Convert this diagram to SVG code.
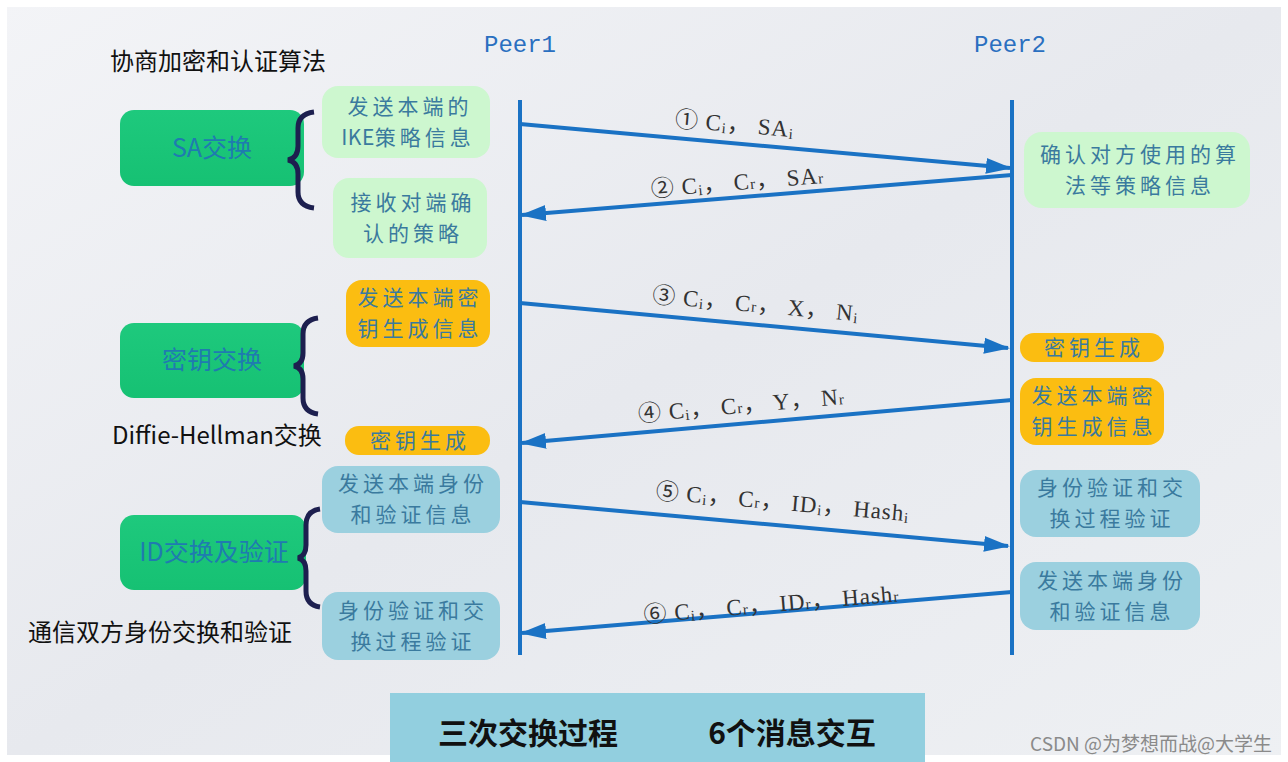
<svg xmlns="http://www.w3.org/2000/svg" width="1288" height="762" viewBox="0 0 1288 762">
<defs>
<linearGradient id="bg" x1="0" y1="0" x2="1" y2="1">
<stop offset="0" stop-color="#f3f4f7"/><stop offset="0.5" stop-color="#e7e9ee"/><stop offset="1" stop-color="#eef0f3"/>
</linearGradient>
<linearGradient id="gbox" x1="0" y1="0" x2="0" y2="1">
<stop offset="0" stop-color="#1ec97d"/><stop offset="1" stop-color="#16c173"/>
</linearGradient>
<marker id="ah" markerUnits="userSpaceOnUse" markerWidth="26" markerHeight="20" refX="24" refY="10" orient="auto">
<path d="M0,2 L26,10 L0,18 Z" fill="#1a72c4"/>
</marker>
<style>
.life{stroke:#1a72c4;stroke-width:4}
.msg{stroke:#1a72c4;stroke-width:4;fill:none}
.peer{font-family:"Liberation Mono","DejaVu Sans Mono",monospace;font-size:24px;fill:#2a6fc0}
.lbl{font-family:"Liberation Serif","Noto Sans CJK SC",serif;font-size:23px;fill:#333;letter-spacing:1px}
.sub{font-size:15px}
.note{font-family:"Noto Sans CJK SC","Liberation Sans",sans-serif;font-size:24px;fill:#111}
.bt{font-family:"Noto Sans CJK SC",sans-serif;font-size:21px;fill:#3a7a9e;letter-spacing:4px;text-anchor:middle}
.gt{font-family:"Noto Sans CJK SC",sans-serif;font-size:25px;fill:#1f7bb0;text-anchor:middle}
.lg{fill:#cdf7cf}
.or{fill:#fbbd11}
.bl{fill:#9bd0df}
.brace{fill:none;stroke:#1d1f4f;stroke-width:5}
</style>
</defs>
<rect width="1288" height="762" fill="url(#bg)"/>
<rect x="0" y="0" width="1288" height="762" fill="none" stroke="#ffffff" stroke-width="14"/>

<g id="peer1"><text class="peer" x="520" y="52" text-anchor="middle">Peer1</text><line class="life" x1="520" y1="100" x2="520" y2="655"/></g>
<g id="peer2"><text class="peer" x="1010" y="52" text-anchor="middle">Peer2</text><line class="life" x1="1012" y1="100" x2="1012" y2="655"/></g>

<g id="notes">
<text class="note" x="110" y="70">协商加密和认证算法</text>
<text class="note" x="112" y="444" font-family="Liberation Sans,Noto Sans CJK SC,sans-serif">Diffie-Hellman交换</text>
<text class="note" x="28" y="641">通信双方身份交换和验证</text>
</g>

<g id="sa-phase">
<rect x="120" y="110" width="184" height="76" rx="14" fill="url(#gbox)"/>
<text class="gt" x="212" y="157">SA交换</text>
<path class="brace" d="M314,112 Q298,114 298,128 L298,146 Q298,158 288,160 Q298,162 298,174 L298,192 Q298,206 314,208"/>
</g>
<g id="key-phase">
<rect x="120" y="323" width="184" height="75" rx="14" fill="url(#gbox)"/>
<text class="gt" x="212" y="369">密钥交换</text>
<path class="brace" d="M318,318 Q303,320 303,334 L303,353 Q303,364 294,366 Q303,368 303,379 L303,398 Q303,412 318,414"/>
</g>
<g id="id-phase">
<rect x="120" y="515" width="186" height="75" rx="14" fill="url(#gbox)"/>
<text class="gt" x="214" y="561" font-size="24">ID交换及验证</text>
<path class="brace" d="M320,509 Q306,511 306,525 L306,545 Q306,556 298,558 Q306,560 306,571 L306,591 Q306,605 320,607"/>
</g>

<g id="l-send-ike"><rect class="lg" x="322" y="86" width="168" height="72" rx="16"/><text class="bt" x="410" y="114">发送本端的<tspan x="408" dy="31"><tspan letter-spacing="0.5">IKE</tspan>策略信息</tspan></text></g>
<g id="l-recv"><rect class="lg" x="333" y="178" width="154" height="80" rx="16"/><text class="bt" x="413" y="210">接收对端确<tspan x="413" dy="31">认的策略</tspan></text></g>
<g id="r-confirm"><rect class="lg" x="1024" y="132" width="226" height="76" rx="18"/><text class="bt" x="1140" y="162">确认对方使用的算<tspan x="1140" dy="31">法等策略信息</tspan></text></g>

<g id="l-send-key"><rect class="or" x="346" y="280" width="144" height="67" rx="16"/><text class="bt" x="420" y="305">发送本端密<tspan x="420" dy="31">钥生成信息</tspan></text></g>
<g id="l-keygen"><rect class="or" x="345" y="426" width="145" height="29" rx="14"/><text class="bt" x="420" y="448">密钥生成</text></g>
<g id="r-keygen"><rect class="or" x="1020" y="333" width="144" height="29" rx="14"/><text class="bt" x="1094" y="355">密钥生成</text></g>
<g id="r-send-key"><rect class="or" x="1020" y="378" width="144" height="67" rx="16"/><text class="bt" x="1094" y="403">发送本端密<tspan x="1094" dy="31">钥生成信息</tspan></text></g>

<g id="l-send-id"><rect class="bl" x="322" y="466" width="178" height="67" rx="16"/><text class="bt" x="413" y="491">发送本端身份<tspan x="413" dy="31">和验证信息</tspan></text></g>
<g id="l-verify"><rect class="bl" x="322" y="592" width="178" height="68" rx="16"/><text class="bt" x="413" y="618">身份验证和交<tspan x="413" dy="31">换过程验证</tspan></text></g>
<g id="r-verify"><rect class="bl" x="1020" y="470" width="180" height="67" rx="16"/><text class="bt" x="1112" y="495">身份验证和交<tspan x="1112" dy="31">换过程验证</tspan></text></g>
<g id="r-send-id"><rect class="bl" x="1020" y="562" width="180" height="68" rx="16"/><text class="bt" x="1112" y="588">发送本端身份<tspan x="1112" dy="31">和验证信息</tspan></text></g>

<g id="connectors">
<line class="msg" x1="520" y1="124" x2="1010" y2="168" marker-end="url(#ah)"/>
<line class="msg" x1="1012" y1="175" x2="522" y2="215" marker-end="url(#ah)"/>
<line class="msg" x1="520" y1="303" x2="1008" y2="348" marker-end="url(#ah)"/>
<line class="msg" x1="1012" y1="400" x2="522" y2="443" marker-end="url(#ah)"/>
<line class="msg" x1="520" y1="502" x2="1008" y2="546" marker-end="url(#ah)"/>
<line class="msg" x1="1012" y1="592" x2="522" y2="633" marker-end="url(#ah)"/>
</g>

<g id="labels">
<text class="lbl" transform="translate(734,132) rotate(5)" text-anchor="middle">① C<tspan class="sub" dy="2">i</tspan><tspan dy="-2">， SA</tspan><tspan class="sub" dy="2">i</tspan></text>
<text class="lbl" transform="translate(738,190) rotate(-4.7)" text-anchor="middle">② C<tspan class="sub" dy="2">i</tspan><tspan dy="-2">， C</tspan><tspan class="sub">r</tspan><tspan>， SA</tspan><tspan class="sub">r</tspan></text>
<text class="lbl" transform="translate(755,312) rotate(5.2)" text-anchor="middle">③ C<tspan class="sub" dy="2">i</tspan><tspan dy="-2">， C</tspan><tspan class="sub">r</tspan><tspan>， X， N</tspan><tspan class="sub" dy="2">i</tspan></text>
<text class="lbl" transform="translate(742,413) rotate(-5)" text-anchor="middle">④ C<tspan class="sub" dy="2">i</tspan><tspan dy="-2">， C</tspan><tspan class="sub">r</tspan><tspan>， Y， N</tspan><tspan class="sub">r</tspan></text>
<text class="lbl" transform="translate(782,510) rotate(5.1)" text-anchor="middle">⑤ C<tspan class="sub" dy="2">i</tspan><tspan dy="-2">， C</tspan><tspan class="sub">r</tspan><tspan>， ID</tspan><tspan class="sub" dy="2">i</tspan><tspan dy="-2">， Hash</tspan><tspan class="sub" dy="2">i</tspan></text>
<text class="lbl" transform="translate(772,612) rotate(-4.8)" text-anchor="middle">⑥ C<tspan class="sub" dy="2">i</tspan><tspan dy="-2">， C</tspan><tspan class="sub">r</tspan><tspan>， ID</tspan><tspan class="sub">r</tspan><tspan>， Hash</tspan><tspan class="sub">r</tspan></text>
</g>

<g id="banner">
<rect x="390" y="693" width="535" height="69" fill="#92cfdf"/>
<text x="528" y="744" font-family="Noto Sans CJK SC,sans-serif" font-weight="bold" font-size="30" fill="#111" text-anchor="middle">三次交换过程</text>
<text x="792" y="744" font-family="Noto Sans CJK SC,sans-serif" font-weight="bold" font-size="30" fill="#111" text-anchor="middle">6个消息交互</text>
</g>
<text x="1272" y="751" font-family="Noto Sans CJK SC,sans-serif" font-size="19" fill="#8a8a8a" text-anchor="end">CSDN @为梦想而战@大学生</text>
</svg>
